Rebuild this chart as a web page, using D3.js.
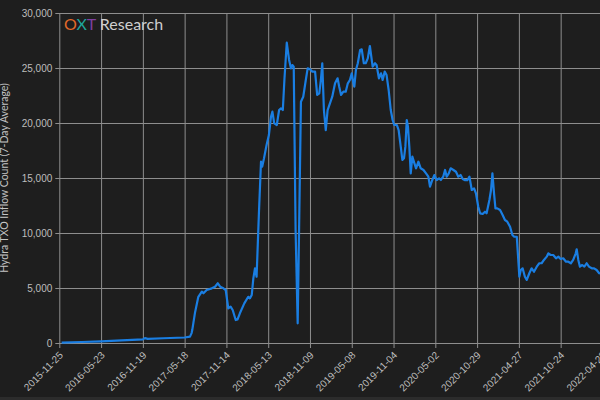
<!DOCTYPE html>
<html><head><meta charset="utf-8">
<script src="https://cdn.jsdelivr.net/npm/d3@7"></script>
<style>
html,body{margin:0;padding:0;background:#1e1e1e;overflow:hidden;}
svg{display:block;}
</style></head>
<body>
<script>
const dates = ["2015-12-05","2016-03-01","2016-05-23","2016-08-20","2016-11-19","2016-11-28","2016-12-10","2017-02-15","2017-05-18","2017-06-10","2017-06-17","2017-06-20","2017-07-02","2017-07-16","2017-07-31","2017-08-07","2017-08-21","2017-09-12","2017-09-26","2017-10-08","2017-10-18","2017-11-01","2017-11-11","2017-11-22","2017-12-02","2017-12-11","2017-12-24","2018-01-01","2018-01-11","2018-01-30","2018-02-16","2018-02-23","2018-03-03","2018-03-10","2018-03-17","2018-03-24","2018-04-03","2018-04-12","2018-04-17","2018-04-25","2018-05-06","2018-05-16","2018-05-25","2018-05-31","2018-06-08","2018-06-19","2018-06-29","2018-07-07","2018-07-15","2018-07-22","2018-08-01","2018-08-11","2018-08-19","2018-08-25","2018-08-31","2018-09-08","2018-09-17","2018-09-23","2018-10-01","2018-10-11","2018-10-22","2018-10-30","2018-11-09","2018-11-19","2018-12-01","2018-12-10","2018-12-19","2018-12-26","2019-01-01","2019-01-08","2019-01-16","2019-01-24","2019-02-03","2019-02-13","2019-02-25","2019-03-08","2019-03-15","2019-03-23","2019-04-02","2019-04-12","2019-04-21","2019-04-30","2019-05-08","2019-05-15","2019-05-19","2019-05-26","2019-06-03","2019-06-13","2019-06-20","2019-06-29","2019-07-07","2019-07-16","2019-07-25","2019-08-06","2019-08-16","2019-08-23","2019-09-02","2019-09-11","2019-09-18","2019-09-27","2019-10-05","2019-10-14","2019-10-23","2019-10-31","2019-11-07","2019-11-18","2019-11-26","2019-12-05","2019-12-12","2019-12-19","2019-12-25","2019-12-31","2020-01-05","2020-01-11","2020-01-17","2020-01-24","2020-02-02","2020-02-09","2020-02-19","2020-02-29","2020-03-12","2020-03-23","2020-04-02","2020-04-09","2020-04-19","2020-04-28","2020-05-08","2020-05-18","2020-05-26","2020-06-05","2020-06-13","2020-06-20","2020-06-29","2020-07-07","2020-07-19","2020-07-30","2020-08-09","2020-08-19","2020-08-28","2020-09-07","2020-09-17","2020-09-26","2020-10-06","2020-10-16","2020-10-24","2020-11-03","2020-11-11","2020-11-22","2020-12-02","2020-12-09","2020-12-21","2020-12-28","2021-01-03","2021-01-10","2021-01-16","2021-01-24","2021-02-05","2021-02-16","2021-02-26","2021-03-08","2021-03-20","2021-03-30","2021-04-07","2021-04-18","2021-04-29","2021-05-05","2021-05-13","2021-05-23","2021-05-31","2021-06-11","2021-06-21","2021-07-01","2021-07-13","2021-07-24","2021-08-03","2021-08-13","2021-08-25","2021-09-01","2021-09-11","2021-09-22","2021-10-04","2021-10-14","2021-10-24","2021-11-04","2021-11-16","2021-11-26","2021-12-07","2021-12-17","2021-12-28","2022-01-01","2022-01-08","2022-01-15","2022-01-25","2022-02-03","2022-02-13","2022-02-23","2022-03-07","2022-03-17","2022-03-28","2022-04-08","2022-04-20"];
const values = [30,90,140,230,330,440,380,430,500,580,900,1200,2800,4200,4670,4520,4820,4970,5120,5430,5120,4970,4820,3150,3300,3000,2090,2150,2700,3600,4200,4060,4360,5880,6790,6030,11790,16480,16030,16790,18000,18900,20570,21030,19970,19820,21180,21330,21180,24000,27300,25730,24970,25270,25120,10270,1790,10270,21940,22390,23910,24970,24880,24670,24670,22550,22700,23910,25430,21180,19360,21180,21790,22390,23610,24060,23300,22550,22850,22850,23610,23910,24520,23610,23300,24820,25430,26640,26700,25430,25430,25880,27000,25120,25430,25270,24060,24520,23910,24670,24360,23000,21180,20270,19820,19820,19360,17850,16640,16790,17850,20270,19670,17850,15420,16940,16330,15880,16480,15880,15730,15420,15120,14210,14820,15270,14820,14970,14820,15120,15730,15120,15420,15880,15730,15570,15120,15270,14900,14800,14800,15120,13910,14060,13610,12390,11790,11730,11940,11790,13000,13910,15420,13610,12240,12240,12090,11640,11180,11030,10570,9820,9660,9660,6030,6640,6790,6030,5730,6340,6790,6480,6940,7250,7250,7550,7850,8150,8000,8000,7700,7850,7640,7700,7390,7390,7250,7550,8150,8520,7550,6940,7090,6940,7250,6940,6790,6790,6640,6340,6300];
const xTickLabels = ["2015-11-25","2016-05-23","2016-11-19","2017-05-18","2017-11-14","2018-05-13","2018-11-09","2019-05-08","2019-11-04","2020-05-02","2020-10-29","2021-04-27","2021-10-24","2022-04-22"];
const yTicks = [0,5000,10000,15000,20000,25000,30000];
const yLabel = "Hydra TXO Inflow Count (7-Day Average)";
const xDomain = ["2015-11-25","2022-06-01"];

(function(){
const W = 600, H = 400;
const parse = d3.utcParse("%Y-%m-%d");
const data = dates.map((d,i)=>({date:parse(d), value:values[i]}));

const mL = 59.3, mT = 13, mB = 343;
const d0 = parse(xDomain[0]), d1 = parse(xDomain[1]);
const pxPerDay = 41.78/180;
const mR = mL + (d1 - d0)/86400000 * pxPerDay;

const x = d3.scaleUtc().domain([d0,d1]).range([mL,mR]);
const y = d3.scaleLinear().domain([0,30000]).range([mB,mT]);

const svg = d3.select("body").append("svg").attr("width",W).attr("height",H)
  .style("font-family","Lato, 'Open Sans', sans-serif");
svg.append("rect").attr("width",W).attr("height",H).attr("fill","#1e1e1e");
svg.append("rect").attr("x",0).attr("y",397).attr("width",W).attr("height",3).attr("fill","#2c2c2c");

const gridColor = "#8e8e8e";
const yAxis = svg.append("g").attr("transform",`translate(${mL},0)`)
  .call(d3.axisLeft(y).tickValues(yTicks).tickFormat(d3.format(",")).tickSizeInner(-(mR-mL)).tickSizeOuter(0).tickPadding(7));
yAxis.select(".domain").remove();
yAxis.selectAll(".tick line").attr("stroke",gridColor).attr("x1",-4).attr("x2",mR-mL);
yAxis.selectAll(".tick text").attr("fill","#bdbdbd").attr("font-size",10);

const xAxis = svg.append("g").attr("transform",`translate(0,${mB})`)
  .call(d3.axisBottom(x).tickValues(xTickLabels.map(parse)).tickFormat(d3.utcFormat("%Y-%m-%d")).tickSizeOuter(0));
xAxis.select(".domain").remove();
xAxis.selectAll(".tick line").attr("stroke",gridColor).attr("y2",5).attr("y1",-(mB-mT));
xAxis.selectAll(".tick text").attr("fill","#bdbdbd").attr("font-size",10)
  .attr("text-anchor","end").attr("dy",null).attr("dx",null)
  .attr("transform","translate(2,11) rotate(-45)").attr("y",0).attr("x",0).attr("dominant-baseline","middle");

const line = d3.line().x(d=>x(d.date)).y(d=>y(d.value)).curve(d3.curveLinear);
svg.append("path").datum(data).attr("d",line).attr("fill","none")
  .attr("stroke","#1a7ee2").attr("stroke-width",2.2).attr("stroke-linejoin","round");

const t = svg.append("text").attr("x",64).attr("y",29.5).attr("font-size",16);
t.append("tspan").text("O").attr("fill","#e36a2a");
t.append("tspan").text("X").attr("fill","#1ea69c");
t.append("tspan").text("T").attr("fill","#7f3fa0");
t.append("tspan").text(" Research").attr("fill","#cfcfcf");

svg.append("text").attr("transform",`translate(8,${(mT+mB)/2}) rotate(-90)`)
  .attr("text-anchor","middle").attr("fill","#c4c4c4").attr("font-size",10.5).text(yLabel);
})();
</script>
</body></html>
